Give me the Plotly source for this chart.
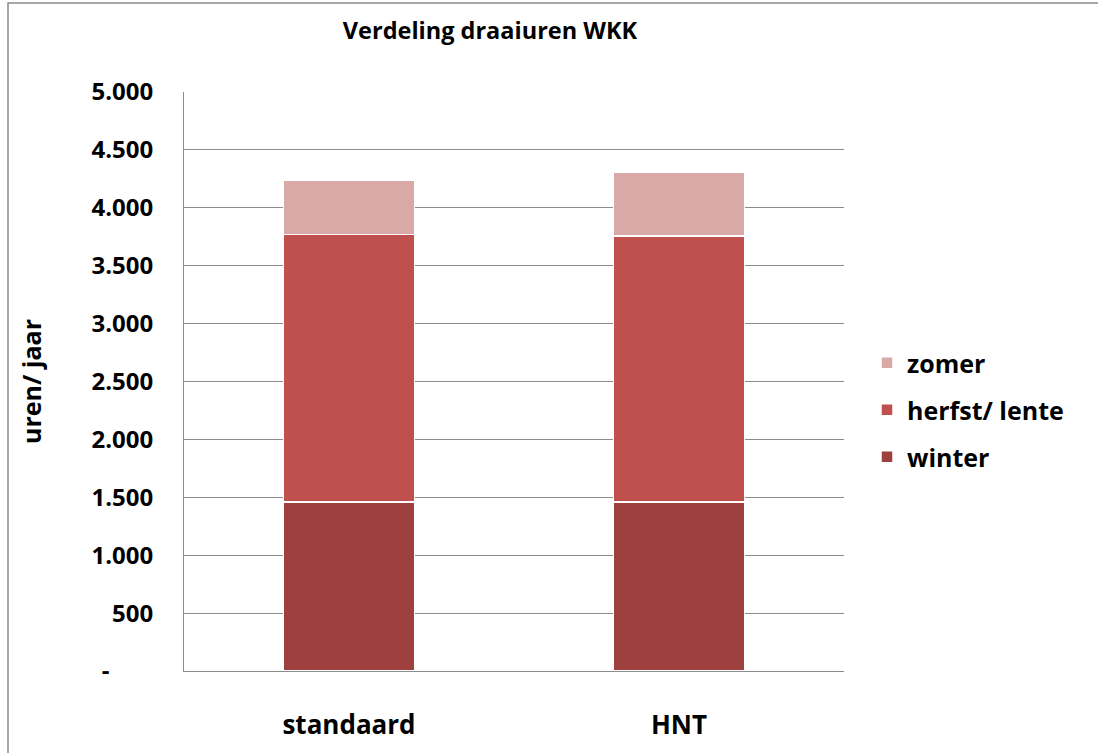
import plotly.graph_objects as go

categories = ["standaard", "HNT"]
winter = [1460, 1460]
herfst_lente = [2310, 2295]
zomer = [465, 555]

y_tickvals = [0, 500, 1000, 1500, 2000, 2500, 3000, 3500, 4000, 4500, 5000]
y_ticktext = ["-" + "\u00a0" * 7, "500", "1.000", "1.500", "2.000", "2.500",
              "3.000", "3.500", "4.000", "4.500", "5.000"]

W, H = 1098, 753
L, R, T, B = 184, 844, 92, 671
FONT = "'Open Sans', Lato, sans-serif"

fig = go.Figure()
series = [("winter", winter, "#9E413E", 3),
          ("herfst/ lente", herfst_lente, "#C0504D", 2),
          ("zomer", zomer, "#D9A9A8", 1)]
for name, vals, col, rank in series:
    fig.add_trace(go.Bar(x=categories, y=vals, name=name, legendgroup=name,
                         legendrank=rank,
                         marker=dict(color=col, line=dict(color="white", width=1.5)),
                         hoverinfo="skip"))

fig.update_layout(
    width=W, height=H,
    margin=dict(l=L, r=W - R, t=T, b=H - B, autoexpand=False),
    barmode="stack", bargap=0.603,
    plot_bgcolor="white", paper_bgcolor="white",
    font=dict(family=FONT, color="black"),
    title=dict(text="<b>Verdeling draaiuren WKK</b>", x=490 / W, xanchor="center",
               y=1 - 31 / H, yanchor="middle", font=dict(size=23.5, family=FONT)),
    legend=dict(traceorder="grouped", x=(867 - L) / (R - L), xanchor="left",
                y=1 - (340 - T) / (B - T), yanchor="top",
                font=dict(size=25, family=FONT, weight="bold"),
                itemwidth=30, tracegroupgap=11.5),
    showlegend=True,
)
fig.update_yaxes(range=[0, 5000], tickvals=y_tickvals, ticktext=y_ticktext,
                 showgrid=True, gridcolor="#8C8C8C", gridwidth=1,
                 showline=True, linecolor="#8C8C8C", linewidth=1,
                 ticks="", ticklabelstandoff=25,
                 tickfont=dict(size=24, family=FONT, weight="bold"),
                 title=dict(text="<b>uren/ jaar</b>", font=dict(size=25, family=FONT), standoff=42),
                 zeroline=False)
fig.update_xaxes(showline=True, linecolor="#8C8C8C", linewidth=1, ticks="",
                 ticklabelstandoff=31,
                 tickfont=dict(size=26, family=FONT, weight="bold"))

# outer frame (only its top and left edges fall inside the picture)
fig.add_shape(type="rect", xref="paper", yref="paper",
              x0=(8 - L) / (R - L), x1=(1110 - L) / (R - L),
              y0=1 - (770 - T) / (B - T), y1=1 - (3 - T) / (B - T),
              line=dict(color="#8C8C8C", width=1.5), fillcolor="rgba(0,0,0,0)", layer="below")

fig.write_html("out.html", config={"displayModeBar": False},
               post_script="document.body.style.margin='0px';")
